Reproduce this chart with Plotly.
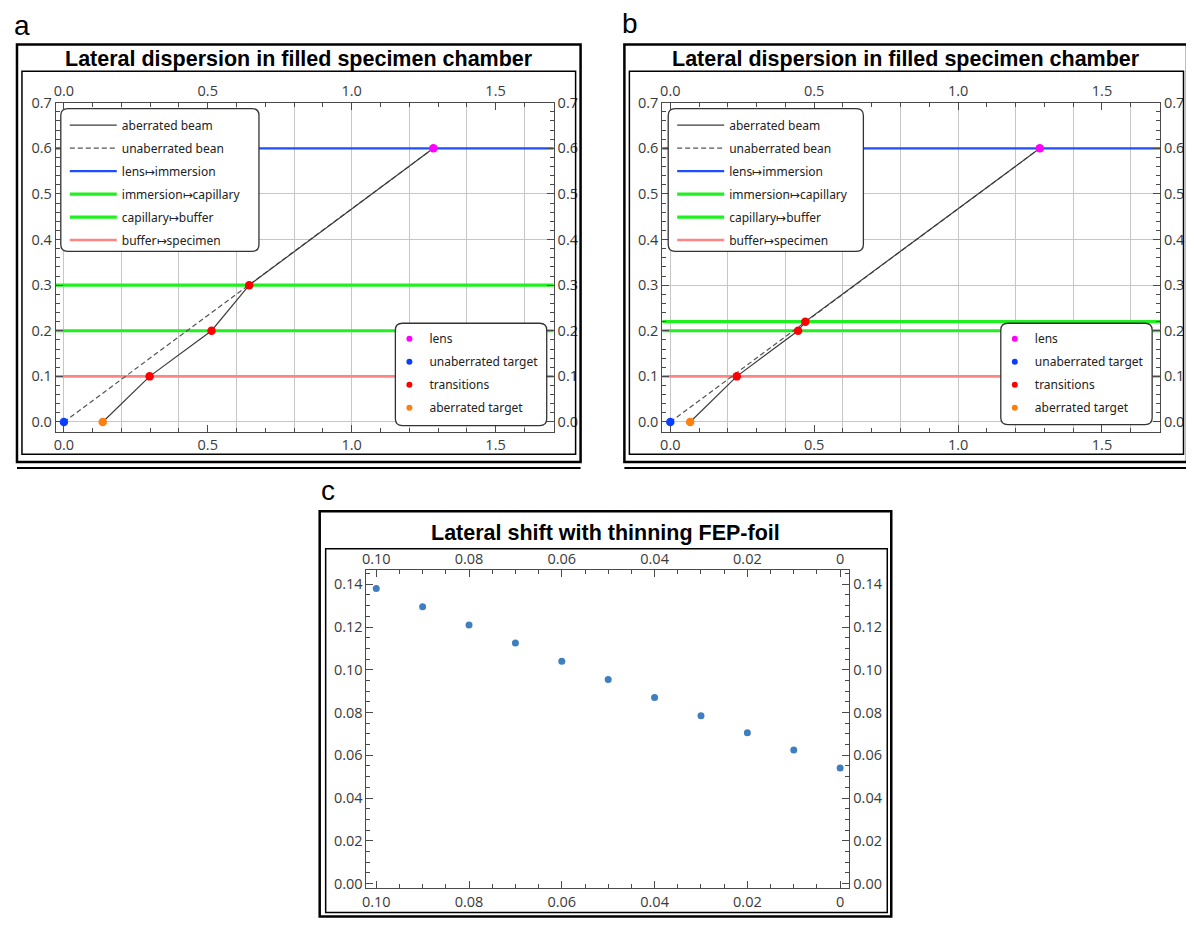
import plotly.graph_objects as go

# figure sized so that, with the 8px body margin of the page, it fills the 1194x929 window exactly
OX, OY = 8, 8
W, H = 1194 - 2 * OX, 929 - 2 * OY

# ---------------- data ----------------
X_RANGE = [-0.028, 1.702]
Y_RANGE = [-0.021, 0.70]

LEVEL_NAMES = ["lens\u21a6immersion", "immersion\u21a6capillary", "capillary\u21a6buffer", "buffer\u21a6specimen"]
LEVEL_COLORS = ["#1f4dff", "#1ff01f", "#1ff01f", "#ff8585"]
LEVEL_WIDTHS = [2.2, 3.2, 3.2, 2.6]
LEVELS_A = [0.6, 0.3, 0.2, 0.1]
LEVELS_B = [0.6, 0.22, 0.2, 0.1]

LENS_X, LENS_Y = [1.284], [0.6]
UNAB_TARGET_X, UNAB_TARGET_Y = [0.0], [0.0]
UNAB_X, UNAB_Y = [0.0, 1.284], [0.0, 0.6]

ABER_A_X = [0.135, 0.298, 0.513, 0.644, 1.284]
ABER_A_Y = [0.0, 0.1, 0.2, 0.3, 0.6]
TRANS_A_X = [0.298, 0.513, 0.644]
TRANS_A_Y = [0.1, 0.2, 0.3]
TARGET_A_X, TARGET_A_Y = [0.135], [0.0]

ABER_B_X = [0.069, 0.231, 0.444, 0.469, 1.284]
ABER_B_Y = [0.0, 0.1, 0.2, 0.22, 0.6]
TRANS_B_X = [0.231, 0.444, 0.469]
TRANS_B_Y = [0.1, 0.2, 0.22]
TARGET_B_X, TARGET_B_Y = [0.069], [0.0]

FOIL = [0.10, 0.09, 0.08, 0.07, 0.06, 0.05, 0.04, 0.03, 0.02, 0.01, 0.00]
SHIFT = [0.138, 0.1295, 0.121, 0.1125, 0.104, 0.0955, 0.087, 0.0785, 0.0705, 0.0625, 0.054]
C_XTICKS = [0.10, 0.08, 0.06, 0.04, 0.02, 0.0]
C_XLABELS = ["0.10", "0.08", "0.06", "0.04", "0.02", "0"]
C_XRANGE = [0.1021, -0.0020]
C_YRANGE = [-0.0023, 0.1465]

TITLE_AB = "Lateral dispersion in filled specimen chamber"
TITLE_C = "Lateral shift with thinning FEP-foil"

# ---------------- helpers (window pixels -> paper) ----------------
def px(x):
    return (x - OX) / W

def py(y):
    return 1 - (y - OY) / H

def dom_x(l, r):
    return [px(l), px(r)]

def dom_y(t, b):
    return [py(b), py(t)]

TICKFONT = dict(family="Open Sans", size=14.5, color="#3a3a3a")
AXC = "#4a4a4a"
GRIDC = "#c6c6c6"
LEGFONT = dict(family="Noto Sans", size=12, color="#222")

fig = go.Figure()


def beam_panel(xa, ya, xb, xt, yr, levels, aber_x, aber_y, trans_x, trans_y, tgt_x, tgt_y, leg1, leg2):
    for i, lev in enumerate(levels):
        fig.add_trace(go.Scatter(
            x=X_RANGE, y=[lev, lev], mode="lines",
            line=dict(color=LEVEL_COLORS[i], width=LEVEL_WIDTHS[i]),
            name=LEVEL_NAMES[i], legend=leg1, legendrank=3 + i,
            legendgroup=leg1 + str(i), xaxis=xa, yaxis=ya))
    fig.add_trace(go.Scatter(
        x=UNAB_X, y=UNAB_Y, mode="lines",
        line=dict(color="#555555", width=1.2, dash="5px,3px"),
        name="unaberrated bean", legend=leg1, legendrank=2,
        legendgroup=leg1 + "u", xaxis=xa, yaxis=ya))
    fig.add_trace(go.Scatter(
        x=aber_x, y=aber_y, mode="lines",
        line=dict(color="#3c3c3c", width=1.2),
        name="aberrated beam", legend=leg1, legendrank=1,
        legendgroup=leg1 + "a", xaxis=xa, yaxis=ya))
    pts = [
        (LENS_X, LENS_Y, "#ff00ff", "lens"),
        (UNAB_TARGET_X, UNAB_TARGET_Y, "#0b3dff", "unaberrated target"),
        (trans_x, trans_y, "#ff0000", "transitions"),
        (tgt_x, tgt_y, "#ff7f0e", "aberrated target"),
    ]
    for k, (xs, ys, col, nm) in enumerate(pts):
        fig.add_trace(go.Scatter(
            x=xs, y=ys, mode="markers", marker=dict(color=col, size=8.5),
            showlegend=False, xaxis=xa, yaxis=ya))
        fig.add_trace(go.Scatter(
            x=[None], y=[None], mode="markers", marker=dict(color=col, size=6),
            name=nm, legend=leg2, legendrank=k + 1, legendgroup=leg2 + str(k),
            xaxis=xa, yaxis=ya))
    # empty traces so that the overlaying label axes are drawn
    for (xx, yy) in ((xb, ya), (xt, ya), (xa, yr)):
        fig.add_trace(go.Scatter(x=[None], y=[None], mode="markers", showlegend=False,
                                 xaxis=xx, yaxis=yy))


beam_panel("x", "y", "x2", "x3", "y2", LEVELS_A, ABER_A_X, ABER_A_Y, TRANS_A_X, TRANS_A_Y,
           TARGET_A_X, TARGET_A_Y, "legend", "legend2")
beam_panel("x4", "y3", "x5", "x6", "y4", LEVELS_B, ABER_B_X, ABER_B_Y, TRANS_B_X, TRANS_B_Y,
           TARGET_B_X, TARGET_B_Y, "legend3", "legend4")

fig.add_trace(go.Scatter(
    x=FOIL, y=SHIFT, mode="markers", marker=dict(color="#3f7fbf", size=7),
    showlegend=False, xaxis="x7", yaxis="y5"))
for (xx, yy) in (("x8", "y5"), ("x7", "y6")):
    fig.add_trace(go.Scatter(x=[None], y=[None], mode="markers", showlegend=False,
                             xaxis=xx, yaxis=yy))


def common_ticks(**kw):
    d = dict(tickfont=TICKFONT, ticks="inside", ticklen=7, tickcolor=AXC, tickwidth=1,
             showline=True, linecolor=AXC, linewidth=1, zeroline=False, showgrid=False)
    d.update(kw)
    return d


layout = {}


def beam_axes(xm, ym, xb, xt, yr, xdom, ydom):
    layout[xm[0]] = dict(domain=xdom, range=X_RANGE, anchor=ym[1], showgrid=True, gridcolor=GRIDC,
                         gridwidth=1, dtick=0.2, tick0=0, showticklabels=False, ticks="",
                         showline=False, zeroline=False)
    layout[ym[0]] = common_ticks(domain=ydom, range=Y_RANGE, anchor=xm[1], showgrid=True,
                                 gridcolor=GRIDC, gridwidth=1, dtick=0.1, tick0=0, tickformat=".1f",
                                 side="left",
                                 minor=dict(dtick=0.02, ticks="inside", ticklen=4, tickcolor=AXC))
    layout[xb[0]] = common_ticks(domain=xdom, range=X_RANGE, overlaying=xm[1], anchor=ym[1],
                                 side="bottom", dtick=0.5, tick0=0, tickformat=".1f",
                                 minor=dict(dtick=0.1, ticks="inside", ticklen=4, tickcolor=AXC))
    layout[xt[0]] = common_ticks(domain=xdom, range=X_RANGE, overlaying=xm[1], anchor=ym[1],
                                 side="top", dtick=0.5, tick0=0, tickformat=".1f",
                                 minor=dict(dtick=0.1, ticks="inside", ticklen=4, tickcolor=AXC))
    layout[yr[0]] = common_ticks(domain=ydom, range=Y_RANGE, overlaying=ym[1], anchor=xm[1],
                                 side="right", dtick=0.1, tick0=0, tickformat=".1f",
                                 minor=dict(dtick=0.02, ticks="inside", ticklen=4, tickcolor=AXC))


beam_axes(("xaxis", "x"), ("yaxis", "y"), ("xaxis2", "x2"), ("xaxis3", "x3"), ("yaxis2", "y2"),
          dom_x(51, 551), dom_y(94, 428))
beam_axes(("xaxis4", "x4"), ("yaxis3", "y3"), ("xaxis5", "x5"), ("xaxis6", "x6"), ("yaxis4", "y4"),
          dom_x(660, 1160), dom_y(94, 428))

cxd, cyd = dom_x(363, 848), dom_y(569, 892)
layout["xaxis7"] = common_ticks(domain=cxd, range=C_XRANGE, anchor="y5", side="bottom",
                                tickvals=C_XTICKS, ticktext=C_XLABELS,
                                minor=dict(dtick=0.005, tick0=0, ticks="inside", ticklen=4, tickcolor=AXC))
layout["xaxis8"] = common_ticks(domain=cxd, range=C_XRANGE, anchor="y5", overlaying="x7", side="top",
                                tickvals=C_XTICKS, ticktext=C_XLABELS,
                                minor=dict(dtick=0.005, tick0=0, ticks="inside", ticklen=4, tickcolor=AXC))
layout["yaxis5"] = common_ticks(domain=cyd, range=C_YRANGE, anchor="x7", side="left",
                                dtick=0.02, tick0=0, tickformat=".2f",
                                minor=dict(dtick=0.005, ticks="inside", ticklen=4, tickcolor=AXC))
layout["yaxis6"] = common_ticks(domain=cyd, range=C_YRANGE, anchor="x7", overlaying="y5", side="right",
                                dtick=0.02, tick0=0, tickformat=".2f",
                                minor=dict(dtick=0.005, ticks="inside", ticklen=4, tickcolor=AXC))


def legend_at(x, y, iw):
    return dict(x=px(x), y=py(y), xanchor="left", yanchor="top", bgcolor="rgba(0,0,0,0)",
                borderwidth=0, font=LEGFONT, traceorder="grouped", tracegroupgap=4,
                itemwidth=iw, itemclick=False, itemdoubleclick=False)

layout["legend"] = legend_at(60, 102, 47)
layout["legend2"] = legend_at(386, 319, 30)
layout["legend3"] = legend_at(670, 102, 47)
layout["legend4"] = legend_at(994, 319, 30)


def rounded_box(l, t, r, b, rad=7):
    return (f"M {px(l+rad)},{py(t)} L {px(r-rad)},{py(t)} Q {px(r)},{py(t)} {px(r)},{py(t+rad)} "
            f"L {px(r)},{py(b-rad)} Q {px(r)},{py(b)} {px(r-rad)},{py(b)} "
            f"L {px(l+rad)},{py(b)} Q {px(l)},{py(b)} {px(l)},{py(b-rad)} "
            f"L {px(l)},{py(t+rad)} Q {px(l)},{py(t)} {px(l+rad)},{py(t)} Z")

shapes = []
for (l, t, r, b) in [(56, 100, 255, 245), (392, 318, 544, 422), (666, 100, 862, 245), (1000, 318, 1152, 421)]:
    shapes.append(dict(type="path", xref="paper", yref="paper", path=rounded_box(l, t, r, b),
                       fillcolor="white", line=dict(color="#333", width=1.3), layer="above"))

def rect(l, t, r, b, w):
    return dict(type="rect", xref="paper", yref="paper", x0=px(l), x1=px(r), y0=py(b), y1=py(t),
                line=dict(color="black", width=w), fillcolor="rgba(0,0,0,0)", layer="above")

for (l, r, ri) in ((12, 578, 573), (622, 1187, 1183.5)):
    shapes.append(rect(l, 35, r, 459, 2.5))
    shapes.append(rect(l + 5, 62, ri, 451, 1.5))
    shapes.append(dict(type="line", xref="paper", yref="paper", x0=px(l), x1=px(r),
                       y0=py(465), y1=py(465), line=dict(color="black", width=2)))
shapes.append(rect(316, 509, 890, 920.5, 2.5))
shapes.append(rect(322, 547, 886, 916.5, 1.5))

TFONT = dict(family="Liberation Sans", size=21.5, color="black")
LFONT = dict(family="Liberation Sans", size=28, color="black")
annotations = [
    dict(text="<b>" + TITLE_AB + "</b>", x=px(295), y=py(50), font=TFONT),
    dict(text="<b>" + TITLE_AB + "</b>", x=px(905), y=py(50), font=TFONT),
    dict(text="<b>" + TITLE_C + "</b>", x=px(603), y=py(531), font=TFONT),
    dict(text="a", x=px(17), y=py(16), font=LFONT),
    dict(text="b", x=px(628), y=py(14), font=LFONT),
    dict(text="c", x=px(324), y=py(488), font=LFONT),
]
for a in annotations:
    a.update(xref="paper", yref="paper", showarrow=False, xanchor="center", yanchor="middle")

fig.update_layout(width=W, height=H, autosize=False, margin=dict(l=0, r=0, t=0, b=0),
                  paper_bgcolor="white", plot_bgcolor="white", shapes=shapes,
                  annotations=annotations, hovermode=False, **layout)

fig.write_html("out.html")
